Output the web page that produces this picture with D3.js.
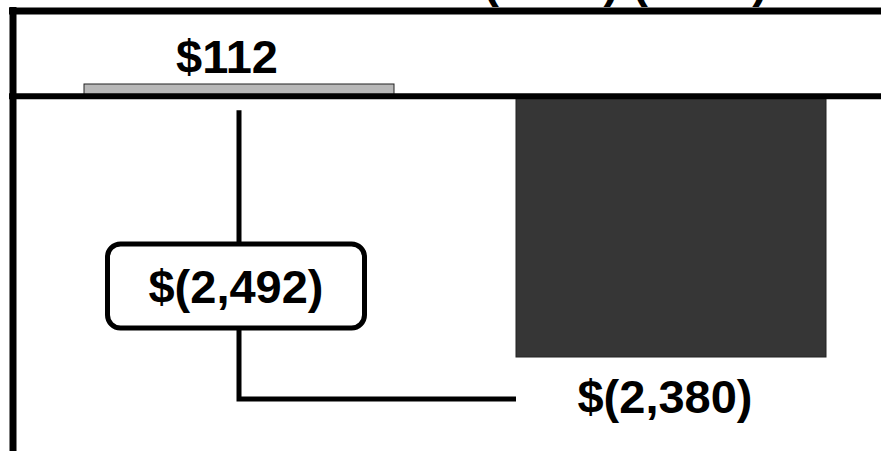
<!DOCTYPE html>
<meta charset="utf-8">
<style>
  body { margin: 0; background: #fff; }
  svg text { font-family: "Liberation Sans", Arial, Helvetica, sans-serif; font-weight: bold; fill: #000; }
</style>
<body>
<script src="https://d3js.org/d3.v7.min.js"></script>
<script>
// values
var categories = ["Prior", "Current"];
var values = [112, -2380];
var barLabels = ["$112", "$(2,380)"];
var diffLabel = "$(2,492)";
var titleText = "(2020) (2021)";
var barColors = ["#b8b8b8", "#363636"];

var width = 881, height = 451;
var svg = d3.select("body").append("svg")
  .attr("width", width).attr("height", height);

var x = d3.scaleBand().domain(categories).range([84, 826]).paddingInner(0.2824);
var y = d3.scaleLinear().domain([d3.min(values), d3.max(values)]).range([357, 84]);

// title, mostly cut off at the top
svg.append("text")
  .attr("x", 768).attr("y", -3)
  .attr("text-anchor", "end")
  .style("font-size", "47px")
  .text(titleText);

// bars
svg.selectAll("rect.bar").data(values).enter().append("rect")
  .attr("class", "bar")
  .attr("x", (d, i) => x(categories[i]))
  .attr("width", x.bandwidth())
  .attr("y", d => y(Math.max(0, d)))
  .attr("height", d => Math.abs(y(d) - y(0)))
  .attr("fill", (d, i) => barColors[i])
  .attr("stroke", "#222").attr("stroke-width", 1);

// frame lines
svg.append("line").attr("x1", 9).attr("x2", width).attr("y1", 11).attr("y2", 11)
  .attr("stroke", "#000").attr("stroke-width", 7);
svg.append("line").attr("x1", 13).attr("x2", 13).attr("y1", 7).attr("y2", height)
  .attr("stroke", "#000").attr("stroke-width", 7);
svg.append("line").attr("x1", 9).attr("x2", width).attr("y1", y(0)).attr("y2", y(0))
  .attr("stroke", "#000").attr("stroke-width", 6);

// bar labels
svg.append("text")
  .attr("x", x(categories[0]) + x.bandwidth() / 2 - 12)
  .attr("y", y(values[0]) - 11)
  .attr("text-anchor", "middle").style("font-size", "47px")
  .text(barLabels[0]);
svg.append("text")
  .attr("x", x(categories[1]) + x.bandwidth() / 2 - 6)
  .attr("y", y(values[1]) + 56)
  .attr("text-anchor", "middle").style("font-size", "47px")
  .text(barLabels[1]);

// difference bracket
var bx = x(categories[0]) + x.bandwidth() / 2;
var by = y(values[1]) + 42;
svg.append("path")
  .attr("d", d3.line()([[bx, y(0) + 14], [bx, by], [x(categories[1]), by]]))
  .attr("fill", "none").attr("stroke", "#000").attr("stroke-width", 5);

var boxCy = 286, boxW = 257, boxH = 84;
svg.append("rect")
  .attr("x", bx - 3 - boxW / 2).attr("y", boxCy - boxH / 2)
  .attr("width", boxW).attr("height", boxH)
  .attr("rx", 13)
  .attr("fill", "#fff").attr("stroke", "#000").attr("stroke-width", 5);
svg.append("text")
  .attr("x", bx - 3).attr("y", boxCy + 17)
  .attr("text-anchor", "middle").style("font-size", "47px")
  .text(diffLabel);
</script>
</body>
